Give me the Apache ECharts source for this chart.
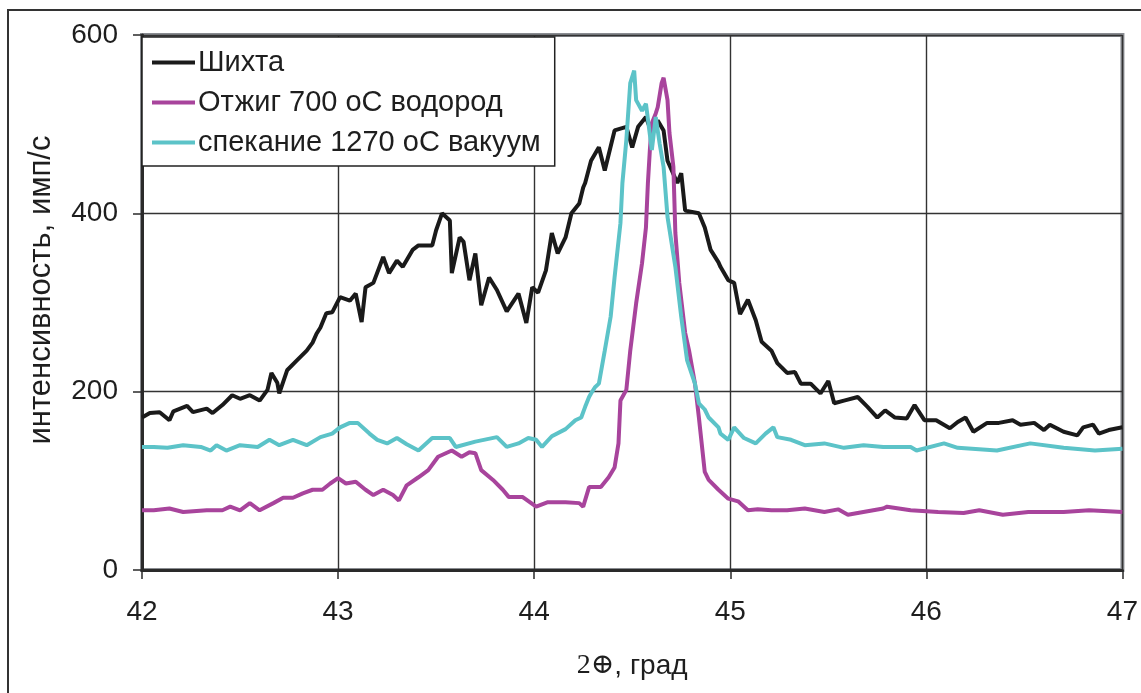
<!DOCTYPE html>
<html>
<head>
<meta charset="utf-8">
<script src="https://cdn.jsdelivr.net/npm/echarts@6/dist/echarts.min.js"></script>
<style>
html,body{margin:0;padding:0;background:#fff;}
#chart{width:1141px;height:693px;}
</style>
</head>
<body>
<div id="chart"></div>
<script>
// Series names (legend)
var seriesNames = ['Шихта', 'Отжиг 700 оС водород', 'спекание 1270 оС вакуум'];

// X axis ticks (2Θ, deg)
var xTicks = [42, 43, 44, 45, 46, 47];
// Y axis ticks (counts/s)
var yTicks = [0, 200, 400, 600];

// Axis titles
var xTitle = '{s|2⊕}, град';
var yTitle = 'интенсивность, имп/с';

// Шихта: [2Θ, intensity]
var shikhta = [
[42.00,171],[42.04,176],[42.09,177],[42.14,168],[42.16,178],[42.23,184],[42.26,177],[42.33,181],[42.36,176],
[42.41,185],[42.46,196],[42.50,192],[42.55,196],[42.60,190],[42.64,202],[42.66,221],[42.69,210],[42.70,198],
[42.74,224],[42.79,235],[42.84,246],[42.87,255],[42.89,265],[42.91,272],[42.94,288],[42.97,289],[43.01,306],
[43.06,302],[43.09,310],[43.12,278],[43.14,317],[43.18,322],[43.23,351],[43.26,333],[43.30,347],[43.33,340],
[43.38,359],[43.41,364],[43.48,364],[43.50,381],[43.53,400],[43.57,392],[43.58,333],[43.62,373],[43.64,368],
[43.67,325],[43.70,355],[43.73,297],[43.77,328],[43.81,314],[43.86,290],[43.92,310],[43.96,277],[43.99,317],
[44.02,311],[44.06,336],[44.09,378],[44.12,355],[44.16,373],[44.19,400],[44.23,411],[44.25,429],[44.26,434],
[44.29,459],[44.33,474],[44.36,448],[44.41,493],[44.47,497],[44.50,474],[44.53,497],[44.57,508],[44.60,490],
[44.63,504],[44.66,493],[44.68,459],[44.73,434],[44.75,445],[44.77,403],[44.84,400],[44.87,384],[44.90,359],
[44.94,345],[44.95,340],[44.99,325],[45.02,322],[45.05,287],[45.09,303],[45.13,280],[45.16,256],[45.21,246],
[45.24,232],[45.29,221],[45.33,222],[45.36,209],[45.41,209],[45.46,198],[45.50,212],[45.53,187],[45.58,190],
[45.65,194],[45.70,183],[45.75,171],[45.79,179],[45.84,171],[45.90,170],[45.94,185],[45.99,168],[46.05,168],
[46.12,159],[46.16,166],[46.20,171],[46.24,155],[46.31,165],[46.37,165],[46.44,168],[46.48,163],[46.55,165],
[46.60,157],[46.63,163],[46.70,155],[46.77,151],[46.80,160],[46.85,163],[46.88,153],[46.93,157],[47.00,160]
];

// Отжиг 700 оС водород
var otzhig = [
[42.00,67],[42.06,67],[42.14,69],[42.21,65],[42.33,67],[42.41,67],[42.45,71],[42.50,67],[42.55,75],[42.60,67],
[42.67,75],[42.72,81],[42.77,81],[42.82,86],[42.87,90],[42.92,90],[42.96,97],[43.00,103],[43.04,97],[43.09,99],
[43.14,90],[43.18,84],[43.23,90],[43.28,84],[43.31,78],[43.35,95],[43.41,104],[43.46,112],[43.51,127],[43.58,134],
[43.63,127],[43.67,132],[43.70,131],[43.73,112],[43.79,101],[43.84,90],[43.87,82],[43.94,82],[44.01,71],[44.07,76],
[44.16,76],[44.23,75],[44.25,71],[44.28,93],[44.34,93],[44.38,104],[44.41,115],[44.43,142],[44.44,190],[44.47,202],
[44.49,246],[44.52,299],[44.55,344],[44.57,384],[44.58,434],[44.59,471],[44.60,501],[44.62,512],[44.63,519],
[44.65,546],[44.66,552],[44.68,527],[44.69,490],[44.71,452],[44.72,378],[44.74,322],[44.77,266],[44.79,246],
[44.82,209],[44.84,171],[44.87,110],[44.89,101],[44.94,90],[44.99,80],[45.04,77],[45.09,67],[45.14,68],[45.21,67],
[45.29,67],[45.38,69],[45.48,65],[45.55,68],[45.60,62],[45.65,64],[45.78,69],[45.80,71],[45.92,67],[46.06,65],
[46.19,64],[46.27,67],[46.39,62],[46.52,65],[46.70,65],[46.83,67],[47.00,65]
];

// спекание 1270 оС вакуум
var spekanie = [
[42.00,138],[42.06,138],[42.13,137],[42.21,140],[42.30,138],[42.35,134],[42.38,140],[42.43,134],[42.50,140],
[42.59,138],[42.65,146],[42.70,140],[42.77,146],[42.84,140],[42.91,149],[42.97,153],[43.01,160],[43.06,165],
[43.10,165],[43.16,153],[43.20,146],[43.25,142],[43.30,148],[43.35,141],[43.41,134],[43.48,148],[43.57,148],
[43.60,138],[43.70,144],[43.81,149],[43.86,138],[43.92,142],[43.97,148],[44.01,146],[44.04,138],[44.09,150],
[44.16,158],[44.21,168],[44.24,171],[44.26,183],[44.28,194],[44.29,198],[44.31,205],[44.33,209],[44.36,246],
[44.39,284],[44.41,328],[44.44,389],[44.45,434],[44.47,482],[44.49,546],[44.51,560],[44.52,527],[44.55,515],
[44.57,523],[44.60,471],[44.62,508],[44.64,478],[44.66,452],[44.68,396],[44.72,340],[44.75,284],[44.78,235],
[44.82,209],[44.84,187],[44.87,180],[44.89,171],[44.94,160],[44.95,153],[44.99,146],[45.02,160],[45.07,148],
[45.13,142],[45.18,153],[45.22,160],[45.24,149],[45.31,146],[45.38,140],[45.48,142],[45.58,137],[45.68,140],
[45.78,138],[45.92,138],[45.95,134],[46.09,142],[46.16,137],[46.36,134],[46.53,142],[46.70,137],[46.86,134],[47.00,136]
];

var chart = echarts.init(document.getElementById('chart'), null, {renderer: 'canvas'});
var txt = '#1e1e1e';
var fontFam = '"Liberation Sans", Arial, sans-serif';

chart.setOption({
  animation: false,
  backgroundColor: '#ffffff',
  graphic: [{
    type: 'rect', silent: true, z: -1,
    shape: {x: 8, y: 10, width: 1145, height: 700},
    style: {fill: 'none', stroke: '#333', lineWidth: 2}
  }, {
    type: 'text', silent: true,
    x: 41, y: 290, rotation: Math.PI / 2,
    style: {text: yTitle, fontSize: 31, fill: txt, fontFamily: fontFam,
            align: 'center', verticalAlign: 'middle'}
  }],
  grid: {
    left: 142, top: 35, width: 985, height: 535,
    show: true, borderColor: '#8a8d92', borderWidth: 4, backgroundColor: '#fff'
  },
  legend: {
    orient: 'vertical', left: 142, top: 37,
    data: seriesNames,
    icon: 'rect', itemWidth: 43, itemHeight: 4, itemGap: 11,
    padding: [11, 14, 9, 10],
    backgroundColor: '#fff', borderColor: '#222', borderWidth: 1.5,
    textStyle: {fontSize: 29, color: txt, fontFamily: fontFam, padding: [0, 0, 0, -2]}
  },
  xAxis: {
    type: 'value', min: xTicks[0], max: xTicks[xTicks.length - 1], interval: 1,
    name: xTitle, nameLocation: 'middle', nameGap: 82,
    nameTextStyle: {fontSize: 28, color: txt, fontFamily: fontFam,
      rich: {s: {fontSize: 28, color: txt, fontFamily: '"Liberation Serif", "DejaVu Serif", serif'}}},
    axisLine: {show: true, onZero: false, lineStyle: {color: '#2a2a2a', width: 3}},
    axisTick: {show: true, inside: false, length: 9, lineStyle: {color: '#2a2a2a', width: 1.5}},
    axisLabel: {fontSize: 28, color: txt, fontFamily: fontFam, margin: 28},
    splitLine: {show: true, lineStyle: {color: '#333', width: 1.4}}
  },
  yAxis: {
    type: 'value', min: yTicks[0], max: yTicks[yTicks.length - 1], interval: 200,
    axisLine: {show: true, lineStyle: {color: '#2a2a2a', width: 3}},
    axisTick: {show: true, inside: false, length: 9, lineStyle: {color: '#2a2a2a', width: 1.5}},
    axisLabel: {fontSize: 28, color: txt, fontFamily: fontFam, margin: 24},
    splitLine: {show: true, lineStyle: {color: '#333', width: 1.4}}
  },
  series: [
    {name: seriesNames[0], type: 'line', data: shikhta, symbol: 'none', showSymbol: false,
     lineStyle: {color: '#1a1a1a', width: 4}, itemStyle: {color: '#1a1a1a'}},
    {name: seriesNames[1], type: 'line', data: otzhig, symbol: 'none', showSymbol: false,
     lineStyle: {color: '#a8449c', width: 4}, itemStyle: {color: '#a8449c'}},
    {name: seriesNames[2], type: 'line', data: spekanie, symbol: 'none', showSymbol: false,
     lineStyle: {color: '#5cc3c8', width: 4}, itemStyle: {color: '#5cc3c8'}}
  ]
});
</script>
</body>
</html>
